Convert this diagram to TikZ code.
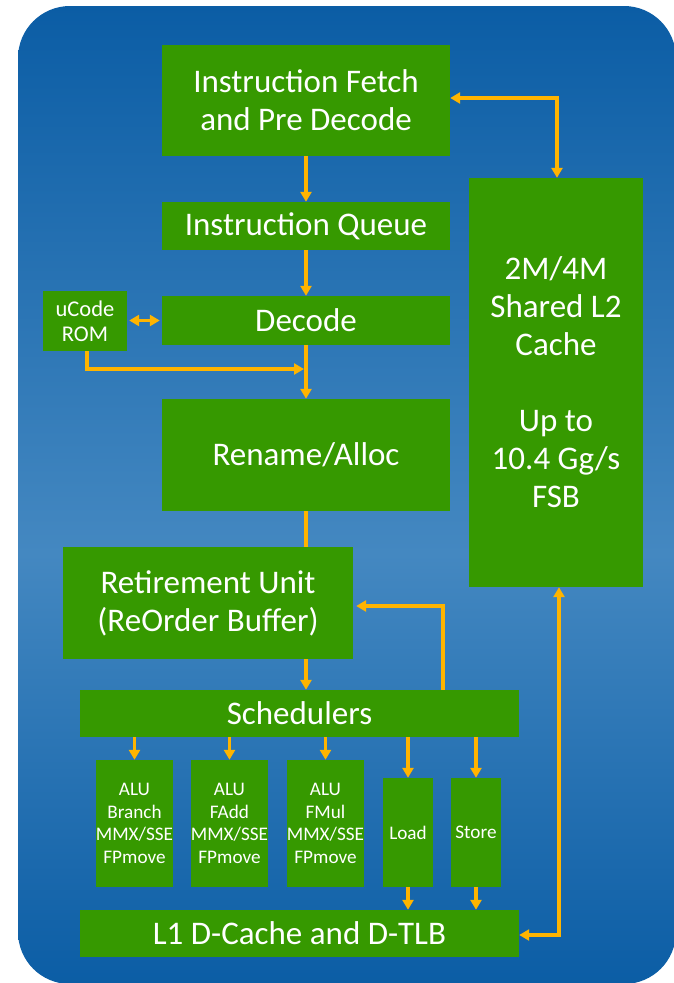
\documentclass[tikz,border=0pt]{standalone}
\usepackage{fontspec}
\setmainfont{Carlito}
\usetikzlibrary{arrows.meta}
\definecolor{bgdark}{RGB}{11,93,165}
\definecolor{bglight}{RGB}{68,136,193}
\definecolor{unitgreen}{RGB}{54,153,0}
\definecolor{busorange}{RGB}{255,180,0}
% panel background: dark blue at the edges, lighter band a little below the middle
% (the filled path spans 25bp..75bp of the shading)
\pgfdeclareverticalshading{panelshade}{100bp}{color(0bp)=(bgdark); color(25bp)=(bgdark); color(47bp)=(bglight); color(75bp)=(bgdark); color(100bp)=(bgdark)}
\begin{document}
\begin{tikzpicture}[x=1pt,y=-1pt,
  unit/.style={fill=unitgreen, text=white, inner sep=0pt, align=center,
               font=\fontsize{33}{38}\selectfont},
  smallunit/.style={unit, font=\fontsize{19.2}{22.5}\selectfont},
  wire/.style={busorange, line width=3.5pt},
  bus/.style={wire, -{Triangle[width=11pt,length=10pt]}},
  dbus/.style={wire, {Triangle[width=11pt,length=10pt]}-{Triangle[width=11pt,length=10pt]}}]

\useasboundingbox (0,0) rectangle (673,983);
\shade[shading=panelshade, rounded corners=52pt] (18,6) rectangle (676,984);

% front end
\node[unit, minimum width=288pt, minimum height=111pt] (fetch) at (306,100.5) {Instruction Fetch\\and Pre Decode};
\node[unit, minimum width=288pt, minimum height=48pt] (queue) at (306,226) {Instruction Queue};
\node[unit, minimum width=288pt, minimum height=49pt] (decode) at (306,320.5) {Decode};
\node[smallunit, minimum width=84pt, minimum height=60pt, font=\fontsize{22.5}{25}\selectfont] (ucode) at (85,321) {uCode\\ROM};
\node[unit, minimum width=288pt, minimum height=112pt] (rename) at (306,455) {Rename/Alloc};

% back end
\node[unit, minimum width=290pt, minimum height=112pt] (retire) at (208,603) {Retirement Unit\\(ReOrder Buffer)};
\node[unit, minimum width=439pt, minimum height=47pt] (sched) at (299.5,713.5) {Schedulers};
\node[smallunit, minimum width=77pt, minimum height=127pt] (alu1) at (134.5,823.5) {ALU\\Branch\\MMX/SSE\\FPmove};
\node[smallunit, minimum width=77pt, minimum height=127pt] (alu2) at (229.5,823.5) {ALU\\FAdd\\MMX/SSE\\FPmove};
\node[smallunit, minimum width=77pt, minimum height=127pt] (alu3) at (325.5,823.5) {ALU\\FMul\\MMX/SSE\\FPmove};
\node[smallunit, minimum width=50pt, minimum height=109pt] (load) at (408,832.5) {Load};
\node[smallunit, minimum width=50pt, minimum height=109pt] (store) at (476,832.5) {Store};
\node[unit, minimum width=439pt, minimum height=47pt] (l1) at (299.5,933.5) {L1 D-Cache and D-TLB};

% shared cache
\node[unit, minimum width=174pt, minimum height=409pt] (l2) at (556,382.5) {2M/4M\\Shared L2\\Cache\\\mbox{}\\Up to\\10.4 Gg/s\\FSB};

% bus routing points
\coordinate (fbus) at (557,98);
\coordinate (merge) at (304,369);
\coordinate (fb) at (443,606);
\coordinate (l2bus) at (559,935);

% in-order pipe
\draw[bus] (fetch) -- (queue);
\draw[bus] (queue) -- (decode);
\draw[bus] (decode) -- (rename);
\draw[dbus, shorten <=2pt, shorten >=2pt] (ucode.east |- decode) -- (decode.west);
\draw[bus] (ucode.south -| 87,0) |- (merge);
\draw[wire] (rename.south) -- (rename.south |- retire.north);
\draw[bus] (retire.south -| rename.south) -- (sched.north -| rename.south);
\draw[bus, shorten >=3pt] (sched.north -| fb) |- (retire.east |- fb);

% issue ports
\draw[bus] (sched.south -| alu1) -- (alu1.north);
\draw[bus] (sched.south -| alu2) -- (alu2.north);
\draw[bus] (sched.south -| alu3) -- (alu3.north);
\draw[bus] (sched.south -| load) -- (load.north);
\draw[bus] (sched.south -| store) -- (store.north);
\draw[bus] (load) -- (load |- l1.north);
\draw[bus] (store) -- (store |- l1.north);

% cache traffic
\draw[dbus] (fetch.east |- fbus) -| (l2.north -| fbus);
\draw[dbus] (l2.south -| l2bus) |- (l1.east |- l2bus);
\end{tikzpicture}
\end{document}
